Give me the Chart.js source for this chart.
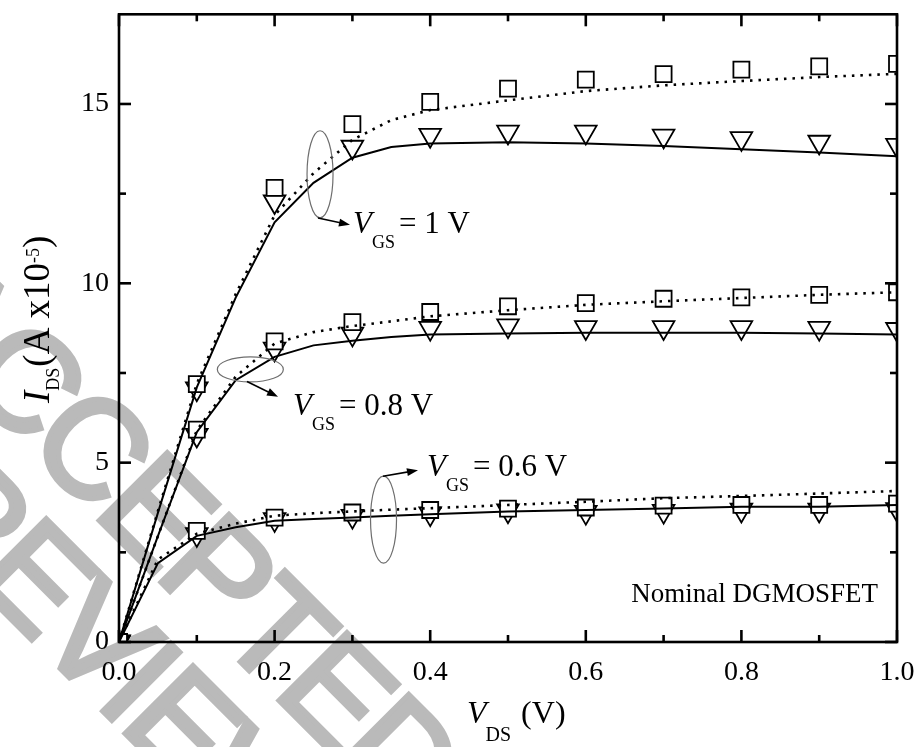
<!DOCTYPE html>
<html>
<head>
<meta charset="utf-8">
<script src="https://cdn.jsdelivr.net/npm/chart.js@4.4.1/dist/chart.umd.min.js"></script>
<style>
body { margin: 0; background: #fff; }
#wrap { width: 922px; height: 747px; }
</style>
</head>
<body>
<div id="wrap"><canvas id="myChart" width="922" height="747"></canvas></div>
<script>

// V_DS where the symbols sit
var vdsMarks = [0, 0.1, 0.2, 0.3, 0.4, 0.5, 0.6, 0.7, 0.8, 0.9, 1.0];
// V_DS for the model curves
var vdsLine = [0, 0.05, 0.1, 0.15, 0.2, 0.25, 0.3, 0.35, 0.4, 0.5, 0.6, 0.7, 0.8, 0.9, 1.0];

// squares (I_DS, A x1e-5)
var sqVgs1  = [0, 7.19, 12.66, 14.44, 15.06, 15.43, 15.68, 15.83, 15.96, 16.05, 16.12];
var sqVgs08 = [0, 5.92, 8.38, 8.92, 9.20, 9.36, 9.45, 9.57, 9.61, 9.68, 9.75];
var sqVgs06 = [0, 3.10, 3.47, 3.61, 3.68, 3.72, 3.75, 3.80, 3.82, 3.82, 3.86];

// triangles
var triVgs1  = [0, 7.06, 12.28, 13.80, 14.13, 14.22, 14.22, 14.11, 14.04, 13.94, 13.85];
var triVgs08 = [0, 5.77, 8.17, 8.59, 8.75, 8.82, 8.77, 8.77, 8.77, 8.75, 8.72];
var triVgs06 = [0, 3.00, 3.42, 3.51, 3.58, 3.66, 3.62, 3.65, 3.68, 3.68, 3.70];

// solid curves
var solidVgs1  = [0, 3.6, 7.1, 9.6, 11.7, 12.8, 13.5, 13.8, 13.9, 13.93, 13.9, 13.83, 13.74, 13.65, 13.54];
var solidVgs08 = [0, 2.95, 5.85, 7.3, 7.95, 8.27, 8.4, 8.5, 8.57, 8.6, 8.62, 8.62, 8.62, 8.6, 8.57];
var solidVgs06 = [0, 2.2, 2.96, 3.2, 3.38, 3.43, 3.47, 3.52, 3.56, 3.64, 3.68, 3.72, 3.77, 3.77, 3.82];

// dotted curves
var dotVgs1  = [0, 3.65, 7.2, 9.7, 11.9, 13.07, 14.0, 14.55, 14.83, 15.1, 15.36, 15.52, 15.64, 15.75, 15.84];
var dotVgs08 = [0, 2.95, 5.9, 7.4, 8.32, 8.64, 8.81, 8.94, 9.08, 9.25, 9.4, 9.5, 9.59, 9.68, 9.75];
var dotVgs06 = [0, 2.3, 3.02, 3.3, 3.52, 3.59, 3.64, 3.69, 3.73, 3.82, 3.91, 4.01, 4.07, 4.14, 4.21];

// axes
var xTickValues = [0, 0.2, 0.4, 0.6, 0.8, 1.0];
var xTickLabels = ['0.0', '0.2', '0.4', '0.6', '0.8', '1.0'];
var xMinorTicks = [0.1, 0.3, 0.5, 0.7, 0.9];
var yTickValues = [0, 5, 10, 15];
var yTickLabels = ['0', '5', '10', '15'];
var yMinorTicks = [2.5, 7.5, 12.5];

// the VGS call-outs: ellipse centre, arrow start/end, label spot (data units)
var noteLabels = ['1 V', '0.8 V', '0.6 V'];
var noteEllipse = [[0.2584, 13.04], [0.1688, 7.60], [0.340, 3.41]];
var noteArrowFrom = [[0.2558, 11.82], [0.1645, 7.26], [0.3393, 4.62]];
var noteArrowTo = [[0.2969, 11.63], [0.2044, 6.84], [0.3843, 4.79]];
var noteText = [[0.3008, 11.41], [0.2237, 6.34], [0.3959, 4.62]];

var SERIF = '"Liberation Serif", "Times New Roman", serif';

function toPoints(xs, ys) {
    return xs.map(function (x, i) { return { x: x, y: ys[i] }; });
}

function squareSet(ys) {
    return {
        data: toPoints(vdsMarks, ys), showLine: false, pointStyle: 'rect',
        pointRadius: 11.3, pointBorderWidth: 1.8, pointBorderColor: '#000',
        pointBackgroundColor: '#fff', clip: 0, order: 2
    };
}

function triangleSet(ys) {
    return {
        data: toPoints(vdsMarks, ys), showLine: false, pointStyle: 'triangle',
        pointRotation: 180, pointRadius: 12.5, pointBorderWidth: 1.8,
        pointBorderColor: '#000', pointBackgroundColor: '#fff', clip: 0, order: 3
    };
}

function lineSet(ys, dotted) {
    return {
        data: toPoints(vdsLine, ys), showLine: true, pointRadius: 0, borderColor: '#000',
        borderWidth: dotted ? 2.6 : 2, borderDash: dotted ? [2.5, 6] : [],
        tension: 0, fill: false, clip: 0, order: 1
    };
}

// grey watermark behind the plot
function drawWatermark(ctx) {
    var rows = [['ACCEPTED', -78, 289], ['REVIEW', -70, 484]];
    ctx.save();
    ctx.fillStyle = '#bababa';
    ctx.strokeStyle = '#bababa';
    ctx.lineWidth = 5;
    ctx.lineJoin = 'miter';
    ctx.font = '140px "Liberation Sans", Arial, sans-serif';
    ctx.textBaseline = 'middle';
    rows.forEach(function (row) {
        ctx.save();
        ctx.translate(row[1], row[2]);
        ctx.rotate(Math.PI / 4);
        var pos = 0;
        for (var i = 0; i < row[0].length; i++) {
            var ch = row[0].charAt(i);
            ctx.fillText(ch, pos, 0);
            ctx.strokeText(ch, pos, 0);
            pos += ctx.measureText(ch).width - 6;
        }
        ctx.restore();
    });
    ctx.restore();
}

// text made of pieces: [text, font, dx, dy]
function drawRuns(ctx, x, y, runs) {
    var pos = x;
    runs.forEach(function (r) {
        ctx.font = r[1];
        pos += r[2] || 0;
        ctx.fillText(r[0], pos, y + (r[3] || 0));
        pos += ctx.measureText(r[0]).width;
    });
}

function line(ctx, x1, y1, x2, y2) {
    ctx.beginPath();
    ctx.moveTo(x1, y1);
    ctx.lineTo(x2, y2);
    ctx.stroke();
}

var decorPlugin = {
    id: 'decor',
    beforeDraw: function (chart) {
        drawWatermark(chart.ctx);
    },
    afterDraw: function (chart) {
        var ctx = chart.ctx;
        var xs = chart.scales.x, ys = chart.scales.y, a = chart.chartArea;
        ctx.save();
        ctx.strokeStyle = '#000';
        ctx.fillStyle = '#000';
        ctx.lineWidth = 2.6;
        ctx.strokeRect(a.left, a.top, a.right - a.left, a.bottom - a.top);

        // ticks point inwards on all four sides
        xTickValues.concat(xMinorTicks).forEach(function (v) {
            var px = xs.getPixelForValue(v);
            var len = xTickValues.indexOf(v) >= 0 ? 12 : 7;
            line(ctx, px, a.bottom, px, a.bottom - len);
            line(ctx, px, a.top, px, a.top + len);
        });
        yTickValues.concat(yMinorTicks).forEach(function (v) {
            var py = ys.getPixelForValue(v);
            var len = yTickValues.indexOf(v) >= 0 ? 12 : 7;
            line(ctx, a.left, py, a.left + len, py);
            line(ctx, a.right, py, a.right - len, py);
        });

        // tick labels
        ctx.font = '28px ' + SERIF;
        ctx.textAlign = 'center';
        ctx.textBaseline = 'alphabetic';
        xTickValues.forEach(function (v, i) {
            ctx.fillText(xTickLabels[i], xs.getPixelForValue(v), a.bottom + 38);
        });
        ctx.textAlign = 'right';
        ctx.textBaseline = 'middle';
        yTickValues.forEach(function (v, i) {
            ctx.fillText(yTickLabels[i], a.left - 10, ys.getPixelForValue(v));
        });

        // axis titles
        ctx.textAlign = 'left';
        ctx.textBaseline = 'alphabetic';
        drawRuns(ctx, 467, 723, [
            ['V', 'italic 32px ' + SERIF],
            ['DS', '20px ' + SERIF, -1, 18],
            ['(V)', '32px ' + SERIF, 10]
        ]);
        ctx.save();
        ctx.translate(49, 403);
        ctx.rotate(-Math.PI / 2);
        drawRuns(ctx, 0, 0, [
            ['I', 'italic 37px ' + SERIF],
            ['DS', '18px ' + SERIF, 0, 10],
            ['(A x10', '37px ' + SERIF, 1],
            ['-5', '18px ' + SERIF, 0, -10],
            [')', '37px ' + SERIF]
        ]);
        ctx.restore();

        // VGS call-outs
        for (var i = 0; i < noteLabels.length; i++) {
            var ex = xs.getPixelForValue(noteEllipse[i][0]);
            var ey = ys.getPixelForValue(noteEllipse[i][1]);
            ctx.save();
            ctx.strokeStyle = '#6e6e6e';
            ctx.lineWidth = 1.2;
            ctx.beginPath();
            if (i === 1) {
                ctx.ellipse(ex, ey, 33, 12.5, 0, 0, Math.PI * 2);
            } else {
                ctx.ellipse(ex, ey, 13, 43.5, 0, 0, Math.PI * 2);
            }
            ctx.stroke();
            ctx.restore();

            var x1 = xs.getPixelForValue(noteArrowFrom[i][0]), y1 = ys.getPixelForValue(noteArrowFrom[i][1]);
            var x2 = xs.getPixelForValue(noteArrowTo[i][0]), y2 = ys.getPixelForValue(noteArrowTo[i][1]);
            var ang = Math.atan2(y2 - y1, x2 - x1);
            ctx.lineWidth = 1.6;
            line(ctx, x1, y1, x2 - 4 * Math.cos(ang), y2 - 4 * Math.sin(ang));
            ctx.beginPath();
            ctx.moveTo(x2, y2);
            ctx.lineTo(x2 - 11 * Math.cos(ang) + 4 * Math.sin(ang), y2 - 11 * Math.sin(ang) - 4 * Math.cos(ang));
            ctx.lineTo(x2 - 11 * Math.cos(ang) - 4 * Math.sin(ang), y2 - 11 * Math.sin(ang) + 4 * Math.cos(ang));
            ctx.closePath();
            ctx.fill();

            var tx = xs.getPixelForValue(noteText[i][0]), ty = ys.getPixelForValue(noteText[i][1]);
            drawRuns(ctx, tx, ty, [
                ['V', 'italic 31px ' + SERIF],
                ['GS', '18px ' + SERIF, 0, 15],
                ['= ' + noteLabels[i], '31px ' + SERIF, 4]
            ]);
        }

        // device name
        ctx.font = '27px ' + SERIF;
        ctx.textAlign = 'right';
        ctx.fillText('Nominal DGMOSFET', xs.getPixelForValue(0.9756), ys.getPixelForValue(1.11));
        ctx.restore();
    }
};

var ctx = document.getElementById('myChart').getContext('2d');

var myChart = new Chart(ctx, {
    type: 'scatter',
    data: {
        datasets: [
            triangleSet(triVgs1), triangleSet(triVgs08), triangleSet(triVgs06),
            squareSet(sqVgs1), squareSet(sqVgs08), squareSet(sqVgs06),
            lineSet(solidVgs1, false), lineSet(solidVgs08, false), lineSet(solidVgs06, false),
            lineSet(dotVgs1, true), lineSet(dotVgs08, true), lineSet(dotVgs06, true)
        ]
    },
    options: {
        responsive: false,
        animation: false,
        events: [],
        layout: { padding: { left: 119, top: 10, right: 25, bottom: 105 } },
        plugins: { legend: { display: false }, tooltip: { enabled: false } },
        scales: {
            x: { type: 'linear', min: 0, max: 1, display: false },
            y: { type: 'linear', min: 0, max: 17.5, display: false }
        }
    },
    plugins: [decorPlugin]
});

</script>
</body>
</html>
